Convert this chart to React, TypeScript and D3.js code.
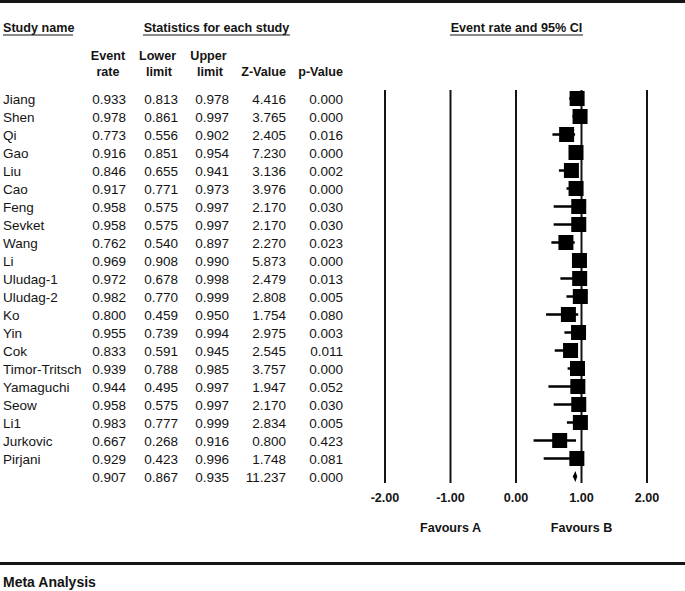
import React from 'react';
import * as d3 from 'd3';

// study rows
const studies = [
  'Jiang', 'Shen', 'Qi', 'Gao', 'Liu', 'Cao', 'Feng', 'Sevket', 'Wang', 'Li',
  'Uludag-1', 'Uludag-2', 'Ko', 'Yin', 'Cok', 'Timor-Tritsch', 'Yamaguchi',
  'Seow', 'Li1', 'Jurkovic', 'Pirjani',
];
const eventRate = [0.933, 0.978, 0.773, 0.916, 0.846, 0.917, 0.958, 0.958, 0.762, 0.969,
  0.972, 0.982, 0.800, 0.955, 0.833, 0.939, 0.944, 0.958, 0.983, 0.667, 0.929];
const lowerLimit = [0.813, 0.861, 0.556, 0.851, 0.655, 0.771, 0.575, 0.575, 0.540, 0.908,
  0.678, 0.770, 0.459, 0.739, 0.591, 0.788, 0.495, 0.575, 0.777, 0.268, 0.423];
const upperLimit = [0.978, 0.997, 0.902, 0.954, 0.941, 0.973, 0.997, 0.997, 0.897, 0.990,
  0.998, 0.999, 0.950, 0.994, 0.945, 0.985, 0.997, 0.997, 0.999, 0.916, 0.996];
const zValue = [4.416, 3.765, 2.405, 7.230, 3.136, 3.976, 2.170, 2.170, 2.270, 5.873,
  2.479, 2.808, 1.754, 2.975, 2.545, 3.757, 1.947, 2.170, 2.834, 0.800, 1.748];
const pValue = [0.000, 0.000, 0.016, 0.000, 0.002, 0.000, 0.030, 0.030, 0.023, 0.000,
  0.013, 0.005, 0.080, 0.003, 0.011, 0.000, 0.052, 0.030, 0.005, 0.423, 0.081];

// pooled estimate
const summary = { rate: 0.907, lower: 0.867, upper: 0.935, z: 11.237, p: 0.000 };

const axisTicks = [-2, -1, 0, 1, 2];
const favourLabels = [
  { value: -1, text: 'Favours A' },
  { value: 1, text: 'Favours B' },
];

const W = 685;
const H = 591;
const FONT = '"Liberation Sans", Arial, Helvetica, sans-serif';
const INK = '#141414';

export default function App() {
  const x = d3.scaleLinear().domain([-2, 2]).range([385, 647]);
  const y = d3.scaleLinear().domain([0, 1]).range([98.5, 116.5]); // one row step
  const fmt = d3.format('.3f');
  // plain hyphen for negatives, like the original
  const tickFmt = (t: number) => d3.format('.2f')(t).replace('\u2212', '-');

  const rows = studies.map((name, i) => ({
    name,
    vals: [eventRate[i], lowerLimit[i], upperLimit[i], zValue[i], pValue[i]],
    rate: eventRate[i],
    lo: lowerLimit[i],
    hi: upperLimit[i],
    cy: y(i),
  }));
  const sumY = y(studies.length);

  const valueRight = [126, 178, 229, 286, 343];
  const box = 15;
  const gridTop = 90;
  const gridBottom = 483;

  const diamond = d3.line()([
    [x(summary.lower), sumY],
    [x(summary.rate), sumY - 5.5],
    [x(summary.upper), sumY],
    [x(summary.rate), sumY + 5.5],
  ]) + 'Z';

  return (
    <svg width={W} height={H} style={{ position: 'absolute', left: 0, top: 0, background: '#fff' }}
      fontFamily={FONT}>
      <rect width={W} height={H} fill="#fff" />
      <line x1={0} x2={W} y1={1.5} y2={1.5} stroke={INK} strokeWidth={3} />

      {/* headers */}
      <g fontWeight="bold" fontSize={12.6} fill={INK}>
        <text x={3} y={32}>Study name</text>
        <line x1={3} x2={73} y1={35} y2={35} stroke={INK} strokeWidth={1.2} />
        <text x={216.5} y={32} textAnchor="middle">Statistics for each study</text>
        <line x1={143} x2={290} y1={35} y2={35} stroke={INK} strokeWidth={1.2} />
        <text x={516.5} y={32} textAnchor="middle">Event rate and 95% CI</text>
        <line x1={450} x2={583} y1={35} y2={35} stroke={INK} strokeWidth={1.2} />

        <text x={108} y={60} textAnchor="middle">Event</text>
        <text x={108} y={76} textAnchor="middle">rate</text>
        <text x={157.5} y={60} textAnchor="middle">Lower</text>
        <text x={159} y={76} textAnchor="middle">limit</text>
        <text x={208.5} y={60} textAnchor="middle">Upper</text>
        <text x={210} y={76} textAnchor="middle">limit</text>
        <text x={286} y={76} textAnchor="end">Z-Value</text>
        <text x={343} y={76} textAnchor="end">p-Value</text>
      </g>

      {/* table rows */}
      <g fontSize={13.5} fill={INK}>
        {rows.map((r) => (
          <g key={r.name}>
            <text x={3} y={r.cy + 5}>{r.name}</text>
            {r.vals.map((v, j) => (
              <text key={j} x={valueRight[j]} y={r.cy + 5} textAnchor="end">{fmt(v)}</text>
            ))}
          </g>
        ))}
        {[summary.rate, summary.lower, summary.upper, summary.z, summary.p].map((v, j) => (
          <text key={'s' + j} x={valueRight[j]} y={sumY + 5} textAnchor="end">{fmt(v)}</text>
        ))}
      </g>

      {/* grid lines */}
      {axisTicks.map((t) => (
        <line key={t} x1={x(t)} x2={x(t)} y1={gridTop} y2={gridBottom} stroke={INK} strokeWidth={2} />
      ))}

      {/* CI lines and boxes */}
      {rows.map((r) => (
        <g key={'m' + r.name}>
          <line x1={x(r.lo)} x2={x(r.hi)} y1={r.cy} y2={r.cy} stroke="#000" strokeWidth={2.5} />
          <rect x={x(r.rate) - box / 2} y={r.cy - box / 2} width={box} height={box} fill="#000" />
        </g>
      ))}
      <path d={diamond} fill="#000" />

      {/* axis labels */}
      <g fontWeight="bold" fontSize={12.6} fill={INK} textAnchor="middle">
        {axisTicks.map((t) => (
          <text key={t} x={x(t)} y={502}>{tickFmt(t)}</text>
        ))}
        {favourLabels.map((f) => (
          <text key={f.text} x={x(f.value)} y={532}>{f.text}</text>
        ))}
      </g>

      <line x1={0} x2={W} y1={563.5} y2={563.5} stroke={INK} strokeWidth={3} />
      <text x={3} y={587} fontWeight="bold" fontSize={14} fill={INK}>Meta Analysis</text>
    </svg>
  );
}
